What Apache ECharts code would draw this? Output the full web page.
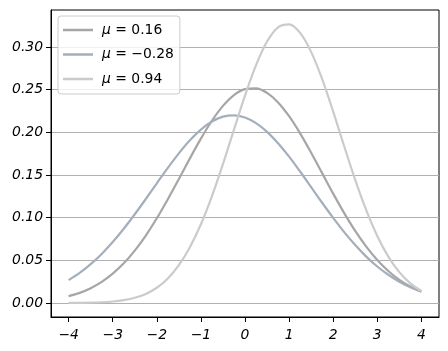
<!DOCTYPE html>
<html><head><meta charset="utf-8">
<script src="https://cdn.jsdelivr.net/npm/echarts@6/dist/echarts.min.js"></script>
<style>html,body{margin:0;padding:0;background:#fff}#c{width:448px;height:351px}</style>
</head><body><div id="c"></div>
<script>
const xValues = [-4,-3.75,-3.5,-3.25,-3,-2.75,-2.5,-2.25,-2,-1.75,-1.5,-1.25,-1,-0.75,-0.5,-0.25,0,0.25,0.5,0.75,1,1.25,1.5,1.75,2,2.25,2.5,2.75,3,3.25,3.5,3.75,4];
const seriesA = [0.0080,0.0119,0.0174,0.0248,0.0344,0.0465,0.0614,0.0791,0.0993,0.1217,0.1454,0.1695,0.1927,0.2136,0.2310,0.2437,0.2507,0.2516,0.2463,0.2351,0.2189,0.1988,0.1761,0.1522,0.1282,0.1054,0.0845,0.0661,0.0504,0.0375,0.0272,0.0193,0.0133];
const seriesB = [0.0268,0.0352,0.0455,0.0575,0.0714,0.0870,0.1040,0.1219,0.1403,0.1584,0.1754,0.1907,0.2033,0.2127,0.2184,0.2200,0.2174,0.2108,0.2006,0.1872,0.1715,0.1541,0.1359,0.1175,0.0998,0.0831,0.0679,0.0544,0.0428,0.0331,0.0250,0.0186,0.0136];
const seriesC = [0.0001,0.0002,0.0004,0.0009,0.0018,0.0034,0.0061,0.0107,0.0179,0.0288,0.0443,0.0653,0.0923,0.1253,0.1629,0.2032,0.2430,0.2787,0.3064,0.3231,0.3266,0.3166,0.2943,0.2623,0.2242,0.1837,0.1444,0.1088,0.0786,0.0544,0.0362,0.0230,0.0141];
const seriesNames = ['0.16', '\u22120.28', '0.94'];
const xTicks = [-4,-3,-2,-1,0,1,2,3,4];
const yTicks = [0,0.05,0.10,0.15,0.20,0.25,0.30];

const colors = ['#a6a6a6', '#a4afbb', '#cbcbcb'];
const font = 'DejaVu Sans';
const pairs = ys => xValues.map((x, i) => [x, ys[i]]);
const chart = echarts.init(document.getElementById('c'), null, {renderer: 'canvas'});
const labelStyle = {fontFamily: font, fontStyle: 'italic', fontSize: 13.9, color: '#000'};
chart.setOption({
  animation: false,
  backgroundColor: '#fff',
  grid: {left: 51, right: 9, top: 10, bottom: 34, show: true, borderColor: '#000', borderWidth: 1, backgroundColor: 'transparent'},
  xAxis: {
    type: 'value', min: -4.4, max: 4.4,
    axisLine: {show: true, onZero: false, lineStyle: {color: '#000', width: 1}},
    axisTick: {show: true, length: 5, customValues: xTicks, lineStyle: {color: '#000'}},
    axisLabel: {show: true, customValues: xTicks, margin: 11, ...labelStyle,
      formatter: v => (v < 0 ? '\u2212' + Math.abs(v) : String(v))},
    splitLine: {show: false}
  },
  yAxis: {
    type: 'value', min: -0.0164, max: 0.3434,
    axisLine: {show: true, onZero: false, lineStyle: {color: '#000', width: 1}},
    axisTick: {show: true, length: 5, customValues: yTicks, lineStyle: {color: '#000'}},
    axisLabel: {show: true, customValues: yTicks, margin: 8, ...labelStyle,
      formatter: v => v.toFixed(2)},
    splitLine: {show: true, lineStyle: {color: '#b0b0b0', width: 1}}
  },
  legend: {
    orient: 'vertical', left: 58, top: 16,
    padding: [6, 6, 7, 5],
    backgroundColor: 'rgba(255,255,255,0.8)',
    borderColor: '#cccccc', borderWidth: 1, borderRadius: 3,
    itemWidth: 30, itemHeight: 2.5, itemGap: 8.5, icon: 'rect',
    textStyle: {fontFamily: font, fontSize: 13.9, color: '#000', lineHeight: 16, padding: [0, 0, 0, 4],
      rich: {m: {fontFamily: font, fontStyle: 'italic', fontSize: 13.9, lineHeight: 16}}},
    formatter: name => '{m|\u03bc} = ' + name,
    data: seriesNames
  },
  series: [seriesA, seriesB, seriesC].map((ys, i) => ({
    name: seriesNames[i], type: 'line', data: pairs(ys), smooth: 0.35, showSymbol: false,
    lineStyle: {color: colors[i], width: 2.2}, itemStyle: {color: colors[i]}, z: 3 + i
  }))
});
</script></body></html>
